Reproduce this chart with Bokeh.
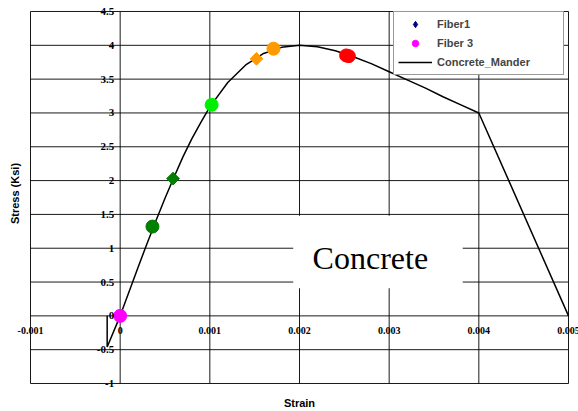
import math
from bokeh.plotting import figure
from bokeh.models import (Range1d, ColumnDataSource, LabelSet, Label,
                          BoxAnnotation, Legend, LegendItem)
from bokeh.embed import file_html
from bokeh.resources import INLINE

# ---- data ----
mander_strain = [-0.000145, -0.000145, 0.0, 0.0001, 0.0002, 0.0003, 0.0004, 0.0005,
                 0.0006, 0.0007, 0.0008, 0.0009, 0.001, 0.0012, 0.0014, 0.0016,
                 0.0018, 0.002, 0.0022, 0.0024, 0.0026, 0.0028, 0.003, 0.0032,
                 0.0034, 0.0036, 0.0038, 0.004, 0.005]
mander_stress = [0.0, -0.46, 0.0, 0.36, 0.72, 1.07, 1.41, 1.74,
                 2.05, 2.35, 2.62, 2.86, 3.09, 3.45, 3.71, 3.88,
                 3.97, 4.0, 3.98, 3.92, 3.83, 3.73, 3.61, 3.49,
                 3.37, 3.24, 3.12, 3.0, 0.0]

fiber1_strain = [0.00059, 0.00152]
fiber1_stress = [2.03, 3.80]
fiber1_colors = ["#008000", "#FF9900"]

fiber3_strain = [0.0, 0.00036, 0.00102, 0.00171, 0.00252, 0.00255]
fiber3_stress = [0.0, 1.32, 3.12, 3.95, 3.85, 3.84]
fiber3_colors = ["#FF00FF", "#008000", "#00EE00", "#FF9900", "#FF0000", "#FF0000"]

x_ticks = [-0.001, 0.0, 0.001, 0.002, 0.003, 0.004, 0.005]
x_tick_labels = ["-0.001", "0", "0.001", "0.002", "0.003", "0.004", "0.005"]
y_ticks = [-1.0, -0.5, 0.0, 0.5, 1.0, 1.5, 2.0, 2.5, 3.0, 3.5, 4.0, 4.5]
y_tick_labels = ["-1", "-0.5", "0", "0.5", "1", "1.5", "2", "2.5", "3", "3.5", "4", "4.5"]

# ---- figure (frame fills the canvas; plot box drawn from tick arrays) ----
p = figure(width=578, height=411,
           x_range=Range1d(-0.0013346, 0.0051115), y_range=Range1d(-1.41398, 4.6626),
           output_backend="svg", toolbar_location=None,
           min_border_left=0, min_border_right=0, min_border_top=0, min_border_bottom=0)
p.background_fill_color = "white"
p.border_fill_color = "white"
p.outline_line_color = None
p.axis.visible = False
p.grid.visible = False

nx, ny = len(x_ticks), len(y_ticks)
p.segment(x0=x_ticks, y0=[y_ticks[0]] * nx, x1=x_ticks, y1=[y_ticks[-1]] * nx,
          line_color="black", line_width=1, line_alpha=0.9)
p.segment(x0=[x_ticks[0]] * ny, y0=y_ticks, x1=[x_ticks[-1]] * ny, y1=y_ticks,
          line_color="black", line_width=1, line_alpha=0.9)

# white text box "Concrete"
p.add_layout(BoxAnnotation(left=0.00193, right=0.00382, bottom=0.41, top=1.48,
                           fill_color="white", fill_alpha=1.0, line_color=None))
p.add_layout(Label(x=0.00279, y=0.86, text="Concrete", text_font="Liberation Serif",
                   text_font_size="32px", text_align="center", text_baseline="alphabetic",
                   text_color="black"))

# curve and markers
line_r = p.line(mander_strain, mander_stress, line_color="black", line_width=1.5)

src1 = ColumnDataSource(dict(x=fiber1_strain, y=fiber1_stress, c=fiber1_colors))
p.scatter("x", "y", source=src1, marker="square", angle=math.pi / 4, size=9,
          fill_color="c", line_color="c")
src3 = ColumnDataSource(dict(x=fiber3_strain, y=fiber3_stress, c=fiber3_colors))
p.scatter("x", "y", source=src3, marker="circle", size=13, fill_color="c", line_color="c")

# legend proxies (series default colours), not drawn in the plot
nan = float("nan")
leg1 = p.scatter(x=[nan], y=[nan], marker="diamond", size=9,
                 fill_color="#000080", line_color="#000080")
leg3 = p.scatter(x=[nan], y=[nan], marker="circle", size=7,
                 fill_color="#FF00FF", line_color="#FF00FF")

legend = Legend(items=[LegendItem(label="Fiber1", renderers=[leg1]),
                       LegendItem(label="Fiber 3", renderers=[leg3]),
                       LegendItem(label="Concrete_Mander", renderers=[line_r])],
                location=(393, 336), margin=0, padding=4, spacing=3,
                glyph_height=16, label_height=16, glyph_width=34, label_standoff=5,
                label_width=122)
legend.label_text_font = "Liberation Sans"
legend.label_text_font_style = "bold"
legend.label_text_font_size = "11px"
legend.border_line_color = "#333333"
legend.border_line_width = 1
legend.background_fill_color = "white"
legend.background_fill_alpha = 1.0
p.add_layout(legend)

# tick labels along the zero lines
ysrc = ColumnDataSource(dict(x=[0.0] * ny, y=y_ticks, t=y_tick_labels))
p.add_layout(LabelSet(x="x", y="y", text="t", source=ysrc, x_offset=-6,
                      text_align="right", text_baseline="middle",
                      text_font="Liberation Serif", text_font_style="bold",
                      text_font_size="11px", text_color="black"))
xsrc = ColumnDataSource(dict(x=x_ticks, y=[0.0] * nx, t=x_tick_labels))
p.add_layout(LabelSet(x="x", y="y", text="t", source=xsrc, y_offset=-15,
                      text_align="center", text_baseline="middle",
                      text_font="Liberation Sans", text_font_style="bold",
                      text_font_size="10px", text_color="black"))

# axis titles
p.add_layout(Label(x=0.0020, y=-1.281, text="Strain", text_align="center",
                   text_baseline="middle", text_font="Liberation Sans",
                   text_font_style="bold", text_font_size="11px", text_color="black"))
p.add_layout(Label(x=-0.0011784, y=1.809, text="Stress (Ksi)", angle=math.pi / 2,
                   text_align="center", text_baseline="middle", text_font="Liberation Sans",
                   text_font_style="bold", text_font_size="11px", text_color="black"))

open("out.html", "w").write(file_html(p, INLINE))
